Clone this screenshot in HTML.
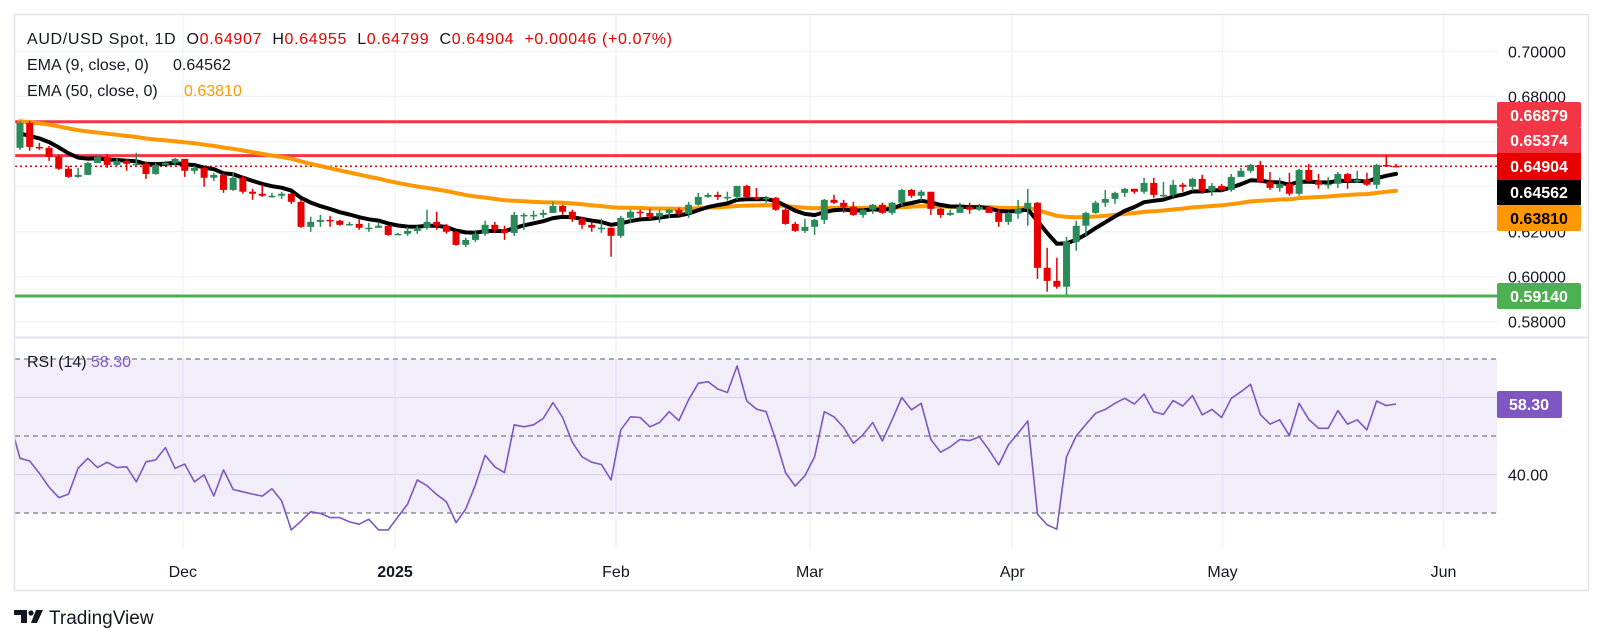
<!DOCTYPE html>
<html><head><meta charset="utf-8"><style>
html,body{margin:0;padding:0;background:#fff;}
svg{display:block;font-family:"Liberation Sans",sans-serif;}
</style></head><body>
<svg id="chart" width="1602" height="644" viewBox="0 0 1602 644" xmlns="http://www.w3.org/2000/svg">
<defs>
<clipPath id="priceClip"><rect x="15" y="15" width="1482" height="322"/></clipPath>
<clipPath id="rsiClip"><rect x="15" y="338" width="1482" height="210"/></clipPath>
</defs>
<rect x="0" y="0" width="1602" height="644" fill="#fff"/>
<g id="grid"></g>
<rect x="15" y="359" width="1482" height="154" fill="#7e57c2" fill-opacity="0.1"/>
<g id="rsiLevels"></g>
<g id="levels" clip-path="url(#priceClip)"></g>
<g id="emas" clip-path="url(#priceClip)"></g>
<g id="candles" clip-path="url(#priceClip)"></g>
<g id="rsi" clip-path="url(#rsiClip)"></g>
<line x1="15" y1="337.5" x2="1588" y2="337.5" stroke="#e0e3eb" stroke-width="2"/>
<rect x="14.5" y="14.5" width="1574" height="576" fill="none" stroke="#e0e3eb" stroke-width="1.5"/>
<g id="axes"></g>

<g font-size="16" fill="#131722">
<text x="27" y="44" textLength="645" xml:space="preserve">AUD/USD Spot, 1D  O<tspan fill="#e60000">0.64907</tspan>  H<tspan fill="#e60000">0.64955</tspan>  L<tspan fill="#e60000">0.64799</tspan>  C<tspan fill="#e60000">0.64904</tspan>  <tspan fill="#e60000">+0.00046 (+0.07%)</tspan></text>
<text x="27" y="70" xml:space="preserve">EMA (9, close, 0)  <tspan x="173">0.64562</tspan></text>
<text x="27" y="96" xml:space="preserve">EMA (50, close, 0)  <tspan x="184" fill="#ff9800">0.63810</tspan></text>
<text x="27" y="367">RSI (14)  <tspan fill="#7e57c2">58.30</tspan></text>
</g>

<g font-size="16" font-weight="bold">
<rect x="1497" y="102" width="84" height="26" rx="2" fill="#f23645"/>
<text x="1539" y="121" text-anchor="middle" fill="#fff">0.66879</text>
<rect x="1497" y="128" width="84" height="25" fill="#f23645"/>
<text x="1539" y="146" text-anchor="middle" fill="#fff">0.65374</text>
<rect x="1497" y="153" width="84" height="27" fill="#e60000"/>
<text x="1539" y="172" text-anchor="middle" fill="#fff">0.64904</text>
<rect x="1497" y="180" width="84" height="25" fill="#000"/>
<text x="1539" y="198" text-anchor="middle" fill="#fff">0.64562</text>
<rect x="1497" y="205" width="84" height="26" rx="2" fill="#ff9800"/>
<text x="1539" y="224" text-anchor="middle" fill="#000">0.63810</text>
<rect x="1497" y="283" width="84" height="26" rx="2" fill="#4caf50"/>
<text x="1539" y="302" text-anchor="middle" fill="#fff">0.59140</text>
<rect x="1497" y="391" width="65" height="27" rx="2" fill="#7e57c2"/>
<text x="1529" y="410" text-anchor="middle" fill="#fff">58.30</text>
</g>

<g>
<path d="M14 610h13v13h-6v-8h-7z" fill="#131722"/>
<circle cx="31" cy="613" r="2.6" fill="#131722"/>
<path d="M36 610h7l-6 13h-6z" fill="#131722"/>
<text x="49" y="624" font-size="19" fill="#131722">TradingView</text>
</g>
</svg>
<script>
// ---------- data ----------
const open0 = 0.6572;
const closes = [.6683,.6576,.6572,.6532,.6479,.6443,.6452,.6505,.6532,.6496,
.6514,.6501,.6501,.6456,.6496,.6505,.6523,.6470,.6483,.6439,
.6452,.6385,.6439,.6377,.6368,.6359,.6359,.6368,.6332,.6221,
.6243,.6252,.6248,.6230,.6234,.6217,.6217,.6226,.6185,.6190,
.6203,.6217,.6243,.6226,.6199,.6141,.6163,.6190,.6230,.6208,
.6194,.6274,.6274,.6274,.6283,.6314,.6288,.6257,.6230,.6217,
.6217,.6181,.6261,.6288,.6283,.6266,.6283,.6297,.6279,.6319,
.6354,.6363,.6354,.6354,.6403,.6354,.6345,.6350,.6297,.6234,
.6203,.6221,.6252,.6341,.6328,.6310,.6274,.6297,.6319,.6283,
.6328,.6385,.6359,.6377,.6301,.6274,.6283,.6310,.6297,.6310,
.6283,.6243,.6279,.6301,.6328,.6039,.5981,.5955,.6154,.6226,
.6283,.6328,.6345,.6372,.6390,.6377,.6416,.6363,.6363,.6408,
.6399,.6434,.6381,.6403,.6385,.6443,.6470,.6496,.6421,.6394,
.6412,.6368,.6474,.6425,.6408,.6412,.6456,.6421,.6430,.6408,
.6496,.6492,.6490];
const highs = [.6692,.6692,.6594,.6581,.6541,.6492,.6483,.6510,.6541,.6545,
.6527,.6523,.6550,.6510,.6505,.6514,.6527,.6519,.6492,.6488,
.6461,.6461,.6465,.6448,.6390,.6408,.6372,.6377,.6372,.6341,
.6266,.6274,.6270,.6252,.6243,.6257,.6239,.6243,.6226,.6194,
.6221,.6226,.6297,.6288,.6234,.6203,.6172,.6208,.6248,.6243,
.6226,.6288,.6283,.6292,.6297,.6332,.6319,.6297,.6266,.6243,
.6257,.6217,.6270,.6297,.6297,.6301,.6297,.6301,.6306,.6332,
.6372,.6372,.6377,.6377,.6403,.6408,.6394,.6359,.6354,.6306,
.6243,.6257,.6257,.6345,.6363,.6341,.6332,.6301,.6323,.6328,
.6332,.6390,.6390,.6385,.6363,.6306,.6297,.6328,.6328,.6323,
.6314,.6297,.6288,.6341,.6390,.6332,.6128,.6084,.6177,.6248,
.6288,.6337,.6385,.6377,.6394,.6390,.6439,.6439,.6421,.6430,
.6416,.6439,.6452,.6416,.6412,.6456,.6483,.6501,.6514,.6465,
.6439,.6461,.6479,.6501,.6456,.6443,.6465,.6461,.6470,.6461,
.6501,.6541,.6501];
const lows = [.6563,.6559,.6563,.6514,.6474,.6439,.6439,.6452,.6505,.6483,
.6492,.6470,.6496,.6434,.6452,.6496,.6492,.6443,.6456,.6399,
.6425,.6372,.6381,.6368,.6341,.6354,.6350,.6345,.6323,.6217,
.6199,.6221,.6221,.6226,.6226,.6208,.6199,.6217,.6181,.6185,
.6181,.6190,.6208,.6208,.6190,.6137,.6132,.6154,.6181,.6194,
.6163,.6181,.6208,.6252,.6261,.6283,.6274,.6243,.6212,.6199,
.6194,.6088,.6172,.6239,.6261,.6252,.6239,.6261,.6270,.6261,
.6314,.6350,.6341,.6337,.6341,.6350,.6341,.6328,.6292,.6230,
.6199,.6194,.6185,.6234,.6323,.6283,.6270,.6261,.6279,.6279,
.6274,.6314,.6350,.6337,.6274,.6261,.6270,.6283,.6279,.6292,
.6283,.6221,.6230,.6257,.6226,.5990,.5933,.5946,.5919,.6115,
.6181,.6279,.6310,.6323,.6354,.6368,.6368,.6350,.6354,.6354,
.6377,.6381,.6368,.6359,.6377,.6377,.6448,.6461,.6416,.6385,
.6377,.6359,.6359,.6421,.6390,.6390,.6394,.6390,.6416,.6403,
.6390,.6488,.6488];
const rsiValues = [46.8,53.3,44.2,43.5,40.3,36.7,34.0,34.9,41.6,44.2,41.8,
43.2,41.8,42.0,38.1,43.3,43.8,47.0,41.6,42.7,38.1,
39.9,34.4,41.2,36.1,35.5,34.9,34.4,36.3,33.2,25.6,
27.9,30.3,29.9,28.8,28.8,27.7,27.1,28.4,25.6,25.6,
29.0,32.3,38.6,37.1,34.8,32.9,27.5,31.0,37.3,45.0,
42.0,40.5,52.9,52.4,52.9,54.6,58.7,54.8,48.4,44.6,
43.2,42.6,38.6,51.6,55.0,54.8,52.4,53.5,56.3,54.0,
59.4,63.7,64.1,62.2,61.3,68.2,59.1,57.0,56.3,49.0,
40.5,37.0,39.7,44.6,56.3,55.0,52.2,48.1,50.3,53.5,48.7,54.2,
60.0,56.8,58.5,49.1,45.8,47.2,49.1,48.8,49.8,46.4,
42.5,47.7,50.7,53.9,29.7,26.9,25.8,44.6,50.0,53.0,
55.9,56.9,58.5,59.8,58.3,60.9,56.3,55.6,59.2,57.8,
60.5,55.5,56.9,54.8,59.8,61.5,63.4,55.6,53.1,54.2,
50.1,58.5,54.3,52.0,52.0,56.6,53.1,54.2,51.6,59.1,
57.9,58.3];
const ema9Seed = 0.6625;
const ema50Seed = 0.6690;
const priceTicks = [0.70, 0.68, 0.66, 0.64, 0.62, 0.60, 0.58];
const priceTickLabels = ["0.70000","0.68000","0.66000","0.64000","0.62000","0.60000","0.58000"];
const rsiGridTicks = [60, 40];
const rsiDashedLevels = [70, 50, 30];
const rsiTickLabels = ["40.00"];
const monthLabels = ["Dec","2025","Feb","Mar","Apr","May","Jun"];
const monthBarIndex = [16.8, 38.7, 61.5, 81.5, 102.4, 124.1, 146.9];
const resistanceLevels = [0.66879, 0.65374];
const supportLevels = [0.5914];

// ---------- scales ----------
const N = closes.length;
const xFirst = 20, xLast = 1396;
const step = (xLast - xFirst) / (N - 1);
function xBar(i){ return xFirst + i * step; }
function yPrice(p){ return 51.5 + (0.70 - p) * (321.6 - 51.5) / 0.12; }
function yRsi(r){ return 436 - (r - 50) * 3.85; }
const NS = "http://www.w3.org/2000/svg";
function mk(tag, attrs, parent){
  const e = document.createElementNS(NS, tag);
  for (const k in attrs) e.setAttribute(k, attrs[k]);
  parent.appendChild(e);
  return e;
}

// ---------- grid ----------
const grid = document.getElementById('grid');
priceTicks.forEach(function(p){
  const l = mk('line', {x1:15, x2:1497, y1:yPrice(p), y2:yPrice(p), stroke:'#f0f3fa', 'stroke-width':1.5}, grid);
  
  
});
rsiGridTicks.forEach(function(r){
  const l = mk('line', {x1:15, x2:1497, y1:yRsi(r), y2:yRsi(r), stroke:'#e8e6f2', 'stroke-width':1.5}, grid);
  
  
});
monthBarIndex.forEach(function(b){
  const x = xBar(b);
  const l1 = mk('line', {x1:x, x2:x, y1:15, y2:337, stroke:'#f0f3fa', 'stroke-width':1.5}, grid);
  
  
  const l2 = mk('line', {x1:x, x2:x, y1:338, y2:548, stroke:'#f0f3fa', 'stroke-width':1.5}, grid);
  
  
});
const rl = document.getElementById('rsiLevels');
rsiDashedLevels.forEach(function(r){
  const l = mk('line', {x1:15, x2:1497, y1:yRsi(r), y2:yRsi(r), stroke:'#787b86', 'stroke-width':1.2, 'stroke-dasharray':'5 4'}, rl);
  
  
});

// ---------- horizontal levels ----------
const lv = document.getElementById('levels');
resistanceLevels.forEach(function(p){
  const l = mk('line', {x1:15, x2:1497, y1:yPrice(p), y2:yPrice(p), stroke:'#f23645', 'stroke-width':3}, lv);
  
  
});
supportLevels.forEach(function(p){
  const l = mk('line', {x1:15, x2:1497, y1:yPrice(p), y2:yPrice(p), stroke:'#4caf50', 'stroke-width':3}, lv);
  
  
});
const lastClose = closes[N-1];
const pl = mk('line', {x1:15, x2:1497, y1:yPrice(lastClose), y2:yPrice(lastClose), stroke:'#e60000', 'stroke-width':1.5, 'stroke-dasharray':'2 3'}, lv);



// ---------- EMAs ----------
const emG = document.getElementById('emas');
function emaPoints(seed, period){
  const k = 2 / (period + 1);
  let e = seed; const pts = [];
  for (let i = 0; i < N; i++){ e = closes[i] * k + e * (1 - k); pts.push(xBar(i).toFixed(1) + ',' + yPrice(e).toFixed(1)); }
  return pts.join(' ');
}
const e50 = mk('polyline', {points:emaPoints(ema50Seed, 50), fill:'none', stroke:'#ff9800', 'stroke-width':4, 'stroke-linejoin':'round', 'stroke-linecap':'round'}, emG);


const e9 = mk('polyline', {points:emaPoints(ema9Seed, 9), fill:'none', stroke:'#000', 'stroke-width':4, 'stroke-linejoin':'round', 'stroke-linecap':'round'}, emG);



// ---------- candles ----------
const cg = document.getElementById('candles');
for (let i = 0; i < N; i++){
  const o = i === 0 ? open0 : closes[i-1];
  const c = closes[i];
  const up = c >= o;
  const col = up ? '#2a8a5a' : '#e60000';
  const x = xBar(i);
  const g = mk('g', {}, cg);
  
  
  mk('line', {x1:x, x2:x, y1:yPrice(highs[i]), y2:yPrice(lows[i]), stroke:col, 'stroke-width':1.5}, g);
  const yt = yPrice(Math.max(o, c)), yb = yPrice(Math.min(o, c));
  mk('rect', {x:x-3.5, y:yt, width:7, height:Math.max(1.5, yb-yt), fill:col}, g);
}

// ---------- RSI ----------
const rg = document.getElementById('rsi');
const off = N - rsiValues.length;
const rpts = rsiValues.map(function(v, j){ return xBar(j + off).toFixed(1) + ',' + yRsi(v).toFixed(1); }).join(' ');
const rline = mk('polyline', {points:rpts, fill:'none', stroke:'#7e57c2', 'stroke-width':1.6, 'stroke-linejoin':'round'}, rg);



// ---------- axes labels ----------
const ax = document.getElementById('axes');
priceTicks.forEach(function(p, i){
  const t = mk('text', {x:1508, y:yPrice(p)+6, 'font-size':16, fill:'#131722'}, ax);
  t.textContent = priceTickLabels[i];
  
  
});
rsiTickLabels.forEach(function(s){
  const t = mk('text', {x:1508, y:yRsi(parseFloat(s))+6, 'font-size':16, fill:'#131722'}, ax);
  t.textContent = s;
  
  
});
monthLabels.forEach(function(m, i){
  const t = mk('text', {x:xBar(monthBarIndex[i]), y:577, 'font-size':16, 'text-anchor':'middle', fill:'#131722', 'font-weight': m === '2025' ? 'bold' : 'normal'}, ax);
  t.textContent = m;
  
  
});
</script>
</body></html>
